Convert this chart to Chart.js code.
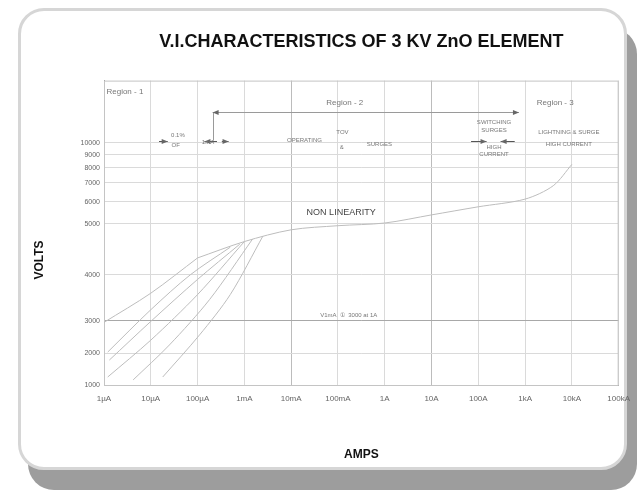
<!DOCTYPE html>
<html>
<head>
<meta charset="utf-8">
<script src="https://cdn.jsdelivr.net/npm/chart.js@4.4.0/dist/chart.umd.min.js"></script>
<style>
  html, body { margin: 0; padding: 0; background: #fff; }
  body { width: 639px; height: 502px; position: relative; overflow: hidden; }
  #card {
    position: absolute; left: 18px; top: 8px; width: 603px; height: 456px;
    border: 3px solid #d6d6d6; border-radius: 26px;
    box-shadow: 10px 20px 0 #9d9d9d; background: #fff;
  }
  #wrap { position: absolute; left: 0; top: 0; width: 639px; height: 502px; }
</style>
</head>
<body>
<div id="card"></div>
<div id="wrap"><canvas id="chart"></canvas></div>
<script>
// --- data (amps / volts) ---
const X_TICKS = [1e-6, 1e-5, 1e-4, 1e-3, 1e-2, 1e-1, 1, 10, 100, 1e3, 1e4, 1e5];
const X_LABELS = ['1µA', '10µA', '100µA', '1mA', '10mA', '100mA', '1A', '10A', '100A', '1kA', '10kA', '100kA'];
const Y_TICKS = [1000, 2000, 3000, 4000, 5000, 6000, 7000, 8000, 9000, 10000];

// common curve after the temperature curves merge
const MAIN_AMPS  = [1e-4, 1e-3, 1e-2, 0.1, 1, 10, 100, 1000, 4000, 1e4];
const MAIN_VOLTS = [4330, 4650, 4880, 4960, 5030, 5400, 5770, 6140, 6850, 8250];

// fan of low current curves
const T1_AMPS = [1e-6, 1e-5, 1e-4];              const T1_VOLTS = [2950, 3600, 4330];
const T2_AMPS = [1.2e-6, 1e-5, 7e-5, 5e-4];      const T2_VOLTS = [2030, 3240, 4000, 4540];
const T3_AMPS = [1.3e-6, 1e-5, 1e-4, 8e-4];      const T3_VOLTS = [1780, 2980, 3900, 4600];
const T4_AMPS = [1.2e-6, 1e-5, 1e-4, 1e-3];      const T4_VOLTS = [1250, 2400, 3570, 4650];
const T5_AMPS = [4.2e-6, 2.5e-5, 1.8e-4, 1.5e-3]; const T5_VOLTS = [1160, 2250, 3460, 4700];
const T6_AMPS = [1.8e-5, 1.1e-4, 5e-4, 2.5e-3];  const T6_VOLTS = [1250, 2560, 3570, 4760];

// text notes on the chart
const NOTE_TEXT  = ['Region - 1', 'Region - 2', 'Region - 3', '0.1%', 'OF', '1mA', 'OPERATING', 'TOV', '&', 'SURGES',
                    'SWITCHING', 'SURGES', 'HIGH', 'CURRENT', 'LIGHTNING & SURGE', 'HIGH CURRENT',
                    'NON LINEARITY', 'V1mA  ①  3000 at 1A'];
const NOTE_AMPS  = [2.8e-6, 0.14, 4.4e3, 3.8e-5, 3.4e-5, 1.67e-4, 0.0193, 0.125, 0.12, 0.77,
                    217, 217, 217, 217, 8.6e3, 8.6e3,
                    0.117, 0.17];
const NOTE_VOLTS = [14900, 13870, 13870, 10680, 9750, 10000, 10190, 10970, 9650, 9830,
                    11940, 11160, 9580, 9000, 10970, 9830,
                    5500, 3110];

// region span arrow and small dimension marks
const REGION_SPAN_AMPS = [2.1e-4, 740];
const REGION_SPAN_VOLTS = 13000;
const DIM_FROM = [1.5e-5, 2.6e-4, 3.3e-4, 70, 600];
const DIM_TO   = [2.3e-5, 1.4e-4, 4.6e-4, 150, 300];
const DIM_VOLTS = 10190;

const toPoints = (amps, volts) => amps.map((a, i) => ({ x: a, y: volts[i] }));

// y axis of the original is not uniform: place each tick where the drawing has it
function valueToFrac(v, breaks) {
  if (v <= breaks[0][0]) return breaks[0][1];
  for (let i = 1; i < breaks.length; i++) {
    const [v0, f0] = breaks[i - 1];
    const [v1, f1] = breaks[i];
    if (v <= v1) return f0 + (v - v0) / (v1 - v0) * (f1 - f0);
  }
  return breaks[breaks.length - 1][1];
}
function fracToValue(f, breaks) {
  for (let i = 1; i < breaks.length; i++) {
    const [v0, f0] = breaks[i - 1];
    const [v1, f1] = breaks[i];
    if (f <= f1) return v0 + (f - f0) / (f1 - f0) * (v1 - v0);
  }
  return breaks[breaks.length - 1][0];
}

class BrokenScale extends Chart.LinearScale {
  buildTicks() {
    return Y_TICKS.map(v => ({ value: v }));
  }
  getPixelForValue(value) {
    return this.getPixelForDecimal(valueToFrac(value, this.options.breaks));
  }
  getValueForPixel(pixel) {
    return fracToValue(this.getDecimalForPixel(pixel), this.options.breaks);
  }
}
BrokenScale.id = 'broken';
BrokenScale.defaults = {};
Chart.register(BrokenScale);

const FONT = '"Liberation Sans", Arial, sans-serif';

function arrowHead(ctx, x, y, dir) {
  ctx.beginPath();
  ctx.moveTo(x, y);
  ctx.lineTo(x - dir * 6, y - 2.5);
  ctx.lineTo(x - dir * 6, y + 2.5);
  ctx.closePath();
  ctx.fill();
}

const notesPlugin = {
  id: 'notes',
  beforeDatasetsDraw(chart) {
    const { ctx, chartArea: a } = chart;
    ctx.save();
    ctx.strokeStyle = '#c4c4c4';
    ctx.lineWidth = 1;
    ctx.strokeRect(a.left + 0.5, a.top + 0.5, a.right - a.left - 1, a.bottom - a.top);
    ctx.restore();
  },
  afterDatasetsDraw(chart) {
    const { ctx, scales: { x, y } } = chart;
    ctx.save();

    // region span
    const ry = Math.round(y.getPixelForValue(REGION_SPAN_VOLTS)) + 0.5;
    const rx1 = x.getPixelForValue(REGION_SPAN_AMPS[0]);
    const rx2 = x.getPixelForValue(REGION_SPAN_AMPS[1]);
    ctx.strokeStyle = '#9a9a9a';
    ctx.fillStyle = '#666';
    ctx.lineWidth = 1;
    ctx.beginPath();
    ctx.moveTo(rx1, ry); ctx.lineTo(rx2, ry);
    ctx.moveTo(Math.round(rx1) + 0.5, ry); ctx.lineTo(Math.round(rx1) + 0.5, y.getPixelForValue(DIM_VOLTS));
    ctx.stroke();
    arrowHead(ctx, rx1, ry, -1);
    arrowHead(ctx, rx2, ry, 1);

    // dimension marks
    const dy = Math.round(y.getPixelForValue(DIM_VOLTS)) + 0.5;
    ctx.strokeStyle = '#555';
    DIM_FROM.forEach((f, i) => {
      const x1 = x.getPixelForValue(f);
      const x2 = x.getPixelForValue(DIM_TO[i]);
      ctx.beginPath();
      ctx.moveTo(x1, dy); ctx.lineTo(x2, dy);
      ctx.stroke();
      arrowHead(ctx, x2, dy, x2 > x1 ? 1 : -1);
    });

    // texts
    ctx.textAlign = 'center';
    ctx.textBaseline = 'middle';
    NOTE_TEXT.forEach((t, i) => {
      const big = t.startsWith('Region') || t === 'NON LINEARITY';
      ctx.font = (big ? '8px ' : '6px ') + FONT;
      ctx.fillStyle = t === 'NON LINEARITY' ? '#444' : '#777';
      if (t === 'NON LINEARITY') ctx.font = '9px ' + FONT;
      ctx.fillText(t, x.getPixelForValue(NOTE_AMPS[i]), y.getPixelForValue(NOTE_VOLTS[i]));
    });

    // y axis title
    ctx.translate(40, 260);
    ctx.rotate(-Math.PI / 2);
    ctx.font = 'bold 12px ' + FONT;
    ctx.fillStyle = '#111';
    ctx.fillText('VOLTS', 0, 0);
    ctx.restore();
  }
};

const curveStyle = { borderColor: '#bdbdbd', borderWidth: 1, pointRadius: 0, tension: 0.3, fill: false };

new Chart(document.getElementById('chart'), {
  type: 'line',
  data: {
    datasets: [
      { label: 'main', data: toPoints(MAIN_AMPS, MAIN_VOLTS), ...curveStyle },
      { label: 't1', data: toPoints(T1_AMPS, T1_VOLTS), ...curveStyle },
      { label: 't2', data: toPoints(T2_AMPS, T2_VOLTS), ...curveStyle },
      { label: 't3', data: toPoints(T3_AMPS, T3_VOLTS), ...curveStyle },
      { label: 't4', data: toPoints(T4_AMPS, T4_VOLTS), ...curveStyle },
      { label: 't5', data: toPoints(T5_AMPS, T5_VOLTS), ...curveStyle },
      { label: 't6', data: toPoints(T6_AMPS, T6_VOLTS), ...curveStyle }
    ]
  },
  options: {
    responsive: true,
    maintainAspectRatio: false,
    animation: false,
    devicePixelRatio: 1,
    layout: { padding: { left: 0, top: 0, right: 19, bottom: 0 } },
    plugins: {
      legend: { display: false },
      tooltip: { enabled: false },
      title: {
        display: true,
        fullSize: false,
        text: 'V.I.CHARACTERISTICS OF 3 KV ZnO ELEMENT',
        color: '#111',
        font: { family: FONT, size: 18, weight: 'bold' },
        padding: { top: 31, bottom: 28 }
      }
    },
    scales: {
      x: {
        type: 'logarithmic',
        min: 1e-6,
        max: 1e5,
        afterFit: s => { s.height = 117; },
        afterBuildTicks: s => { s.ticks = X_TICKS.map(v => ({ value: v })); },
        grid: {
          drawTicks: false,
          color: c => (c.tick && (c.tick.value === 1e-2 || c.tick.value === 10)) ? '#bcbcbc' : '#dadada'
        },
        border: { color: '#999' },
        ticks: {
          autoSkip: false,
          maxRotation: 0,
          padding: 9,
          color: '#666',
          font: { family: FONT, size: 8 },
          callback: (v, i) => X_LABELS[i]
        },
        title: {
          display: true,
          text: 'AMPS',
          color: '#111',
          font: { family: FONT, size: 12, weight: 'bold' },
          padding: { top: 0, bottom: 40 }
        }
      },
      y: {
        type: 'broken',
        min: 1000,
        max: 16000,
        breaks: [[1000, 0], [2000, 0.105], [3000, 0.211], [4000, 0.362], [5000, 0.530], [6000, 0.602],
                 [7000, 0.664], [8000, 0.714], [9000, 0.757], [10000, 0.796], [16000, 1]],
        afterFit: s => { s.width = 104; },
        grid: {
          drawTicks: false,
          color: c => (c.tick && c.tick.value === 3000) ? '#a8a8a8' : '#dadada'
        },
        border: { color: '#999' },
        ticks: {
          autoSkip: false,
          padding: 4,
          color: '#666',
          font: { family: FONT, size: 7 },
          callback: v => String(v)
        }
      }
    }
  },
  plugins: [notesPlugin]
});
</script>
</body>
</html>
